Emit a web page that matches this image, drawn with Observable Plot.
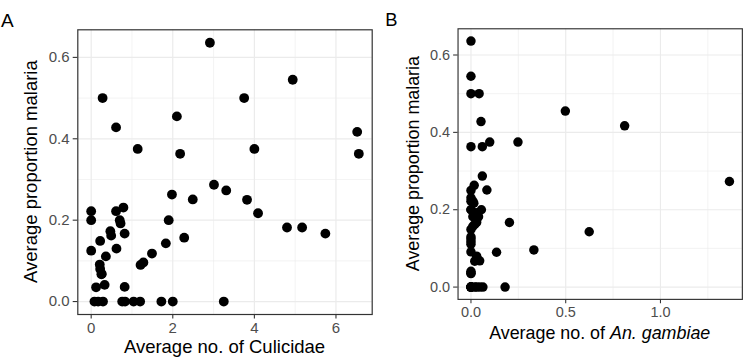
<!DOCTYPE html>
<html>
<head>
<meta charset="utf-8">
<script src="https://cdn.jsdelivr.net/npm/d3@7"></script>
<script src="https://cdn.jsdelivr.net/npm/@observablehq/plot@0.6"></script>
<style>
  html, body { margin: 0; padding: 0; background: white; }
  #wrap { position: relative; width: 747px; height: 359px; overflow: hidden; background: white; }
  .panel { position: absolute; top: 0; }
</style>
</head>
<body>
<div id="wrap">
  <div id="pa" class="panel" style="left:0px"></div>
  <div id="pb" class="panel" style="left:380px"></div>
</div>
<script>
// Average number of Culicidae per site (panel A x)
const culicidae = [0.28, 3.75, 0.61, 1.14, 4.00, 2.10, 2.18, 6.56, 2.91, 4.94, 6.52,
  0.00, 0.00, 0.00, 0.22, 0.21, 0.22, 0.25, 0.12, 0.33, 0.36, 0.47, 0.49, 0.61, 0.79,
  0.70, 0.72, 0.62, 0.82, 0.82, 1.21, 1.28, 1.49, 1.83, 1.90, 1.98, 2.28, 2.49, 3.01,
  3.31, 3.82, 4.09, 4.80, 5.17, 5.74, 0.08, 0.17, 0.29, 0.76, 0.83, 1.04, 1.20, 1.72,
  2.00, 3.25, 0.26];
// Average number of An. gambiae per site (panel B x)
const gambiae = [0.000, 0.043, 0.053, 0.099, 0.248, 0.498, 0.000, 0.060, 0.000, 0.000, 0.811,
  0.000, 0.000, 0.000, 0.000, 0.000, 0.030, 0.020, 0.000, 0.000, 0.000, 0.030, 0.020, 0.010, 0.000,
  0.055, 0.030, 0.000, 0.203, 0.000, 0.135, 0.332, 0.000, 0.624, 0.000, 0.017, 0.010, 0.084, 0.060,
  1.364, 0.000, 0.015, 0.040, 0.010, 0.030, 0.000, 0.000, 0.020, 0.000, 0.046, 0.063, 0.000, 0.180,
  0.030, 0.000, 0.046];
// Average proportion malaria per site (y, both panels)
const malaria = [0.500, 0.500, 0.428, 0.375, 0.375, 0.455, 0.363, 0.363, 0.636, 0.545, 0.417,
  0.222, 0.200, 0.125, 0.149, 0.091, 0.080, 0.067, 0.035, 0.041, 0.111, 0.173, 0.162, 0.222, 0.231,
  0.200, 0.192, 0.130, 0.167, 0.036, 0.090, 0.096, 0.118, 0.143, 0.200, 0.263, 0.157, 0.251, 0.287,
  0.273, 0.250, 0.217, 0.182, 0.182, 0.167, 0, 0, 0, 0, 0, 0, 0, 0,
  0, 0, 0.068];

const yTicks = [0, 0.2, 0.4, 0.6];
const yMinor = [0.1, 0.3, 0.5];
const aTicks = [0, 2, 4, 6];
const aMinor = [1, 3, 5];
const bTicks = [0, 0.5, 1.0];
const bMinor = [0.25, 0.75, 1.25];

const rows = malaria.map((m, i) => ({cul: culicidae[i], gam: gambiae[i], mal: m}));

function expand(vals) {
  const lo = d3.min(vals), hi = d3.max(vals), e = (hi - lo) * 0.05;
  return [lo - e, hi + e];
}

const FONT = "'Liberation Sans', Arial, Helvetica, sans-serif";

function panel({xField, xDomain, xTicks, xMinor, xFormat, marginLeft, marginRight, marginBottom, width, height}) {
  return Plot.plot({
    width, height,
    marginLeft, marginRight, marginTop: 29.3, marginBottom,
    style: {fontFamily: FONT, background: "white", overflow: "visible"},
    x: {domain: xDomain},
    y: {domain: expand(malaria)},
    marks: [
      Plot.ruleX(xMinor, {stroke: "#ebebeb", strokeWidth: 0.6}),
      Plot.ruleY(yMinor, {stroke: "#ebebeb", strokeWidth: 0.6}),
      Plot.ruleX(xTicks, {stroke: "#ebebeb", strokeWidth: 1.2}),
      Plot.ruleY(yTicks, {stroke: "#ebebeb", strokeWidth: 1.2}),
      Plot.dot(rows, {x: xField, y: "mal", r: 4.9, fill: "black", stroke: "none"}),
      Plot.frame({stroke: "#333333", strokeWidth: 1.2}),
      Plot.axisX(xTicks, {tickSize: 4.6, tickPadding: 3.2, stroke: "#333333", fill: "#4d4d4d",
        fontSize: 15, tickFormat: xFormat, label: null, strokeWidth: 1.1}),
      Plot.axisY(yTicks, {tickSize: 4.6, tickPadding: 3.7, stroke: "#333333", fill: "#4d4d4d",
        fontSize: 15, tickFormat: d3.format(".1f"), label: null, strokeWidth: 1.1})
    ]
  });
}

// Panel A
const svgA = panel({
  xField: "cul", xDomain: expand(culicidae), xTicks: aTicks, xMinor: aMinor,
  xFormat: d3.format("d"), marginLeft: 77.3, marginRight: 8.3, marginBottom: 45,
  width: 380, height: 359
});
document.getElementById("pa").appendChild(svgA);

// Panel B
const svgB = panel({
  xField: "gam", xDomain: expand(gambiae), xTicks: bTicks, xMinor: bMinor,
  xFormat: d3.format(".1f"), marginLeft: 80.3, marginRight: 5.3, marginBottom: 49.5,
  width: 380, height: 359
});
document.getElementById("pb").appendChild(svgB);

function titles(svg, {tag, tagX, xTitleX, xTitleY, yTitleX, yTitleY, xParts}) {
  const s = d3.select(svg);
  s.append("text").attr("x", tagX).attr("y", 26.7)
    .attr("font-family", FONT).attr("font-size", 19).attr("fill", "black").text(tag);
  const xt = s.append("text").attr("x", xTitleX).attr("y", xTitleY)
    .attr("text-anchor", "middle").attr("font-family", FONT).attr("font-size", 18.5).attr("fill", "black");
  xParts.forEach(([t, it]) => xt.append("tspan").attr("font-style", it ? "italic" : "normal").text(t));
  s.append("text").attr("transform", `translate(${yTitleX},${yTitleY}) rotate(-90)`)
    .attr("text-anchor", "middle").attr("font-family", FONT).attr("font-size", 18.5).attr("fill", "black")
    .text("Average proportion malaria");
}

titles(svgA, {tag: "A", tagX: 7.3, xTitleX: (77.3 + 371.7) / 2, xTitleY: 353.3,
  yTitleX: 37.3, yTitleY: (29.3 + 314) / 2, xParts: [["Average no. of Culicidae", false]]});
titles(svgB, {tag: "B", tagX: 11.7, xTitleX: (80.3 + 374.7) / 2, xTitleY: 350.7,
  yTitleX: 40.5, yTitleY: (29.3 + 309.5) / 2, xParts: [["Average no. of ", false], ["An. gambiae", true]]});
</script>
</body>
</html>
